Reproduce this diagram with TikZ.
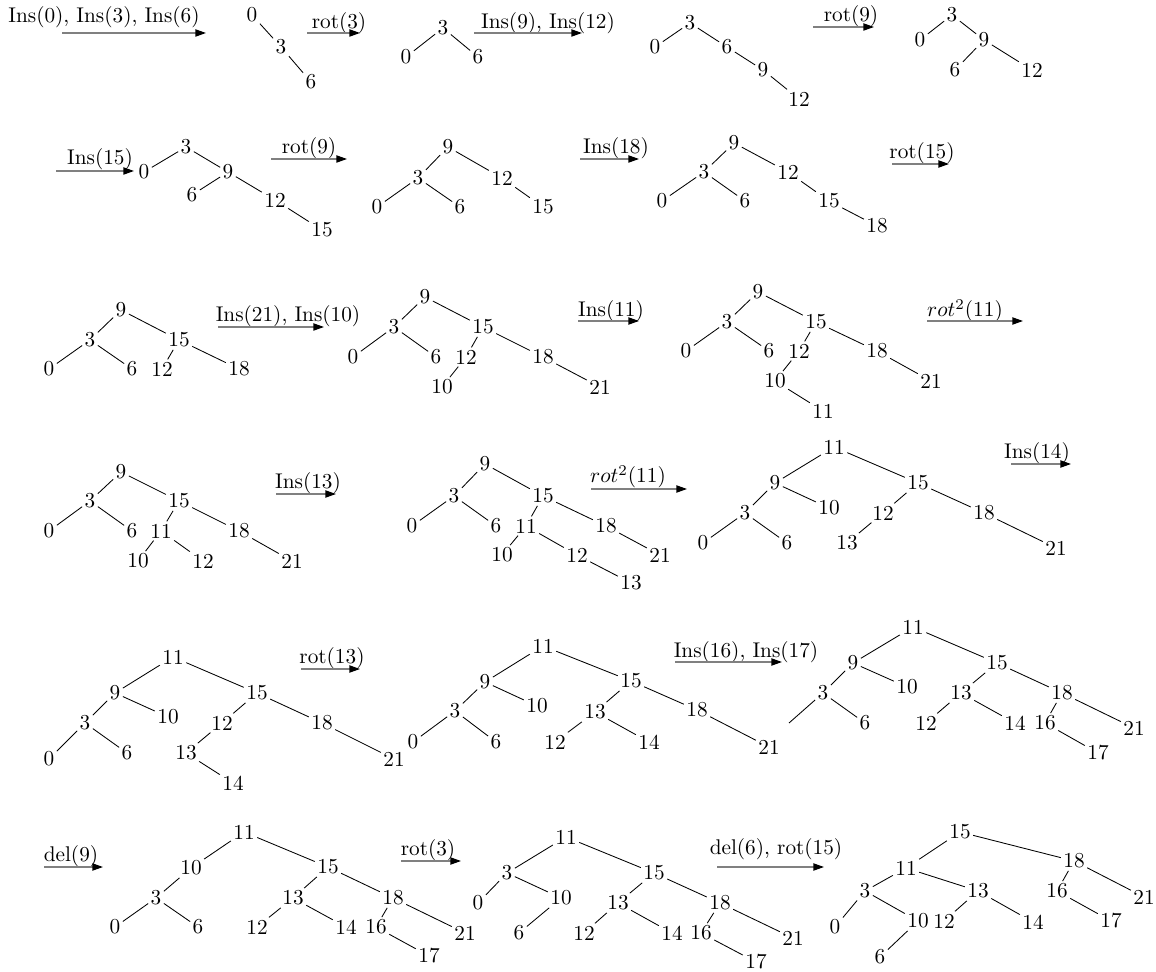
\documentclass[tikz,border=0pt]{standalone}
\usepackage{tikz}
\usetikzlibrary{arrows.meta}

\begin{document}
\begin{tikzpicture}[
    x=0.47pt, y=-0.47pt,
    every node/.style={inner sep=1pt, font=\normalsize},
    op/.style={draw=gray, line width=0.6pt, -{Triangle[length=5pt, width=3.4pt, black]}},
    tline/.style={line width=0.4pt}]

  \useasboundingbox (0,0) rectangle (1156,972);

  % operations
  \node (l1) at (104,17) {Ins(0), Ins(3), Ins(6)};
  \node (l2) at (339,23) {rot(3)};
  \node (l3) at (548,23) {Ins(9), Ins(12)};
  \node (l4) at (851,16) {rot(9)};
  \node (l5) at (100,159) {Ins(15)};
  \node (l6) at (309,148) {rot(9)};
  \node (l7) at (616,148) {Ins(18)};
  \node (l8) at (922,153) {rot(15)};
  \node (l9) at (288,316) {Ins(21), Ins(10)};
  \node (l10) at (611,311) {Ins(11)};
  \node (l11) at (965,311) {$rot^2$(11)};
  \node (l12) at (308,483) {Ins(13)};
  \node (l13) at (628,477) {$rot^2$(11)};
  \node (l14) at (1037,453) {Ins(14)};
  \node (l15) at (332,658) {rot(13)};
  \node (l16) at (746,652) {Ins(16), Ins(17)};
  \node (l17) at (71,856) {del(9)};
  \node (l18) at (428,850) {rot(3)};
  \node (l19) at (776,849) {del(6), rot(15)};

  \foreach \i/\xa/\xb/\y in {1/62/206/33, 2/307/360/33, 3/474/582/33, 4/813/874/27,
      5/56/134/171, 6/271/347/159, 7/580/639/159, 8/892/949/164,
      9/218/324/327, 10/578/639/321, 11/927/1023/321, 12/276/336/494,
      13/591/687/489, 14/1011/1071/464, 15/301/360/669, 16/675/782/662,
      17/44/103/867, 18/401/461/861, 19/717/824/867} {
    \coordinate (s\i) at (\xa,\y);
    \coordinate (e\i) at (\xb,\y);
    \draw[op] (s\i) -- (e\i);
  }

  % row 1
  \node (a0) at (252,15) {0};
  \node (a3) at (281,47) {3};
  \node (a6) at (311,82) {6};

  \node (b3) at (443,28) {3};
  \node (b0) at (406,57) {0};
  \node (b6) at (478,57) {6};

  \node (c3) at (690,23) {3};
  \node (c0) at (655,47) {0};
  \node (c6) at (727,47) {6};
  \node (c9) at (763,70) {9};
  \node (c12) at (799,99) {12};

  \node (d3) at (952,15) {3};
  \node (d0) at (920,40) {0};
  \node (d9) at (984,40) {9};
  \node (d6) at (955,70) {6};
  \node (d12) at (1032,70) {12};

  % row 2
  \node (e3) at (186,147) {3};
  \node (e0) at (144,172) {0};
  \node (e9) at (228,172) {9};
  \node (e6) at (192,195) {6};
  \node (e12) at (275,200) {12};
  \node (e15) at (322,230) {15};

  \node (f9) at (448,147) {9};
  \node (f3) at (418,178) {3};
  \node (f12) at (502,178) {12};
  \node (f0) at (377,207) {0};
  \node (f6) at (460,207) {6};
  \node (f15) at (543,207) {15};

  \node (g9) at (734,143) {9};
  \node (g3) at (704,172) {3};
  \node (g12) at (788,172) {12};
  \node (g0) at (662,201) {0};
  \node (g6) at (745,201) {6};
  \node (g15) at (829,201) {15};
  \node (g18) at (877,226) {18};

  % row 3
  \node (h9) at (121,310) {9};
  \node (h3) at (90,340) {3};
  \node (h15) at (179,340) {15};
  \node (h0) at (49,369) {0};
  \node (h6) at (132,369) {6};
  \node (h12) at (162,369) {12};
  \node (h18) at (239,369) {18};

  \node (i9) at (425,297) {9};
  \node (i3) at (394,327) {3};
  \node (i15) at (483,327) {15};
  \node (i0) at (353,357) {0};
  \node (i6) at (436,357) {6};
  \node (i12) at (466,357) {12};
  \node (i18) at (543,357) {18};
  \node (i10) at (442,387) {10};
  \node (i21) at (600,387) {21};

  \node (j9) at (758,292) {9};
  \node (j3) at (727,322) {3};
  \node (j15) at (816,322) {15};
  \node (j0) at (686,351) {0};
  \node (j6) at (769,351) {6};
  \node (j12) at (799,351) {12};
  \node (j18) at (877,351) {18};
  \node (j10) at (775,381) {10};
  \node (j21) at (931,381) {21};
  \node (j11) at (823,411) {11};

  % row 4
  \node (k9) at (121,472) {9};
  \node (k3) at (90,501) {3};
  \node (k15) at (179,501) {15};
  \node (k0) at (49,531) {0};
  \node (k6) at (132,531) {6};
  \node (k11) at (161,531) {11};
  \node (k18) at (239,531) {18};
  \node (k10) at (138,561) {10};
  \node (k12) at (203,561) {12};
  \node (k21) at (292,561) {21};

  \node (l9) at (485,464) {9};
  \node (l3) at (454,496) {3};
  \node (l15) at (543,496) {15};
  \node (l0) at (412,526) {0};
  \node (l6) at (496,526) {6};
  \node (l11) at (526,526) {11};
  \node (l18) at (606,526) {18};
  \node (l10) at (502,555) {10};
  \node (l12) at (577,555) {12};
  \node (l21) at (660,555) {21};
  \node (l13) at (631,583) {13};

  \node (m11) at (834,447) {11};
  \node (m9) at (775,483) {9};
  \node (m15) at (918,483) {15};
  \node (m3) at (745,513) {3};
  \node (m10) at (829,508) {10};
  \node (m12) at (883,513) {12};
  \node (m18) at (984,513) {18};
  \node (m0) at (703,543) {0};
  \node (m6) at (787,543) {6};
  \node (m13) at (847,543) {13};
  \node (m21) at (1056,548) {21};

  % row 5
  \node (n11) at (173,657) {11};
  \node (n9) at (115,693) {9};
  \node (n15) at (257,693) {15};
  \node (n10) at (168,717) {10};
  \node (n3) at (85,723) {3};
  \node (n12) at (222,723) {12};
  \node (n18) at (322,723) {18};
  \node (n0) at (49,759) {0};
  \node (n6) at (127,753) {6};
  \node (n13) at (186,753) {13};
  \node (n21) at (394,759) {21};
  \node (n14) at (233,783) {14};

  \node (o11) at (543,646) {11};
  \node (o9) at (485,682) {9};
  \node (o15) at (631,681) {15};
  \node (o10) at (537,706) {10};
  \node (o3) at (455,711) {3};
  \node (o13) at (595,712) {13};
  \node (o18) at (697,710) {18};
  \node (o0) at (413,742) {0};
  \node (o6) at (496,742) {6};
  \node (o12) at (555,742) {12};
  \node (o14) at (649,742) {14};
  \node (o21) at (769,747) {21};

  \node (p11) at (913,627) {11};
  \node (p9) at (853,663) {9};
  \node (p15) at (997,663) {15};
  \node (p10) at (907,687) {10};
  \node (p3) at (823,693) {3};
  \node (p13) at (961,693) {13};
  \node (p18) at (1062,693) {18};
  \coordinate (p0) at (789,723);
  \node (p6) at (865,723) {6};
  \node (p12) at (926,723) {12};
  \node (p14) at (1015,723) {14};
  \node (p16) at (1045,723) {16};
  \node (p21) at (1134,728) {21};
  \node (p17) at (1098,753) {17};

  % row 6
  \node (q11) at (244,832) {11};
  \node (q10) at (191,868) {10};
  \node (q15) at (328,867) {15};
  \node (q3) at (156,898) {3};
  \node (q13) at (293,898) {13};
  \node (q18) at (393,898) {18};
  \node (q0) at (115,927) {0};
  \node (q6) at (198,927) {6};
  \node (q12) at (257,927) {12};
  \node (q14) at (346,927) {14};
  \node (q16) at (376,927) {16};
  \node (q21) at (465,933) {21};
  \node (q17) at (429,956) {17};

  \node (r11) at (566,837) {11};
  \node (r3) at (507,873) {3};
  \node (r15) at (654,873) {15};
  \node (r0) at (478,903) {0};
  \node (r10) at (561,898) {10};
  \node (r13) at (618,903) {13};
  \node (r18) at (720,903) {18};
  \node (r6) at (519,933) {6};
  \node (r12) at (584,933) {12};
  \node (r14) at (672,933) {14};
  \node (r16) at (701,933) {16};
  \node (r21) at (793,938) {21};
  \node (r17) at (756,962) {17};

  \node (s15) at (960,832) {15};
  \node (s18) at (1074,861) {18};
  \node (s11) at (906,868) {11};
  \node (s3) at (865,891) {3};
  \node (s13) at (978,891) {13};
  \node (s16) at (1057,891) {16};
  \node (s21) at (1144,897) {21};
  \node (s0) at (835,927) {0};
  \node (s10) at (918,921) {10};
  \node (s12) at (944,921) {12};
  \node (s14) at (1033,922) {14};
  \node (s17) at (1111,921) {17};
  \node (s6) at (880,957) {6};

  % tree edges
  \foreach \u/\v in {a0/a3, a3/a6, b3/b0, b3/b6, c3/c0, c3/c6, c6/c9, c9/c12,
      d3/d0, d3/d9, d9/d6, d9/d12,
      e3/e0, e3/e9, e9/e6, e9/e12, e12/e15,
      f9/f3, f3/f0, f3/f6, f9/f12, f12/f15,
      g9/g3, g3/g0, g3/g6, g9/g12, g12/g15, g15/g18,
      h9/h3, h3/h0, h3/h6, h9/h15, h15/h12, h15/h18,
      i9/i3, i3/i0, i3/i6, i9/i15, i15/i12, i12/i10, i15/i18, i18/i21,
      j9/j3, j3/j0, j3/j6, j9/j15, j15/j12, j12/j10, j10/j11, j15/j18, j18/j21,
      k9/k3, k3/k0, k3/k6, k9/k15, k15/k11, k11/k10, k11/k12, k15/k18, k18/k21,
      l9/l3, l3/l0, l3/l6, l9/l15, l15/l11, l11/l10, l11/l12, l12/l13, l15/l18, l18/l21,
      m11/m9, m9/m3, m3/m0, m3/m6, m9/m10, m11/m15, m15/m12, m12/m13, m15/m18, m18/m21,
      n11/n9, n9/n3, n3/n0, n3/n6, n9/n10, n11/n15, n15/n12, n12/n13, n13/n14, n15/n18, n18/n21,
      o11/o9, o9/o3, o3/o0, o3/o6, o9/o10, o11/o15, o15/o13, o13/o12, o13/o14, o15/o18, o18/o21,
      p11/p9, p9/p3, p3/p0, p3/p6, p9/p10, p11/p15, p15/p13, p13/p12, p13/p14,
      p15/p18, p18/p16, p16/p17, p18/p21,
      q11/q10, q10/q3, q3/q0, q3/q6, q11/q15, q15/q13, q13/q12, q13/q14,
      q15/q18, q18/q16, q16/q17, q18/q21,
      r11/r3, r3/r0, r3/r10, r10/r6, r11/r15, r15/r13, r13/r12, r13/r14,
      r15/r18, r18/r16, r16/r17, r18/r21,
      s15/s11, s11/s3, s3/s0, s3/s10, s10/s6, s11/s13, s13/s12, s13/s14,
      s15/s18, s18/s16, s16/s17, s18/s21}
    \draw[tline] (\u) -- (\v);
\end{tikzpicture}
\end{document}
